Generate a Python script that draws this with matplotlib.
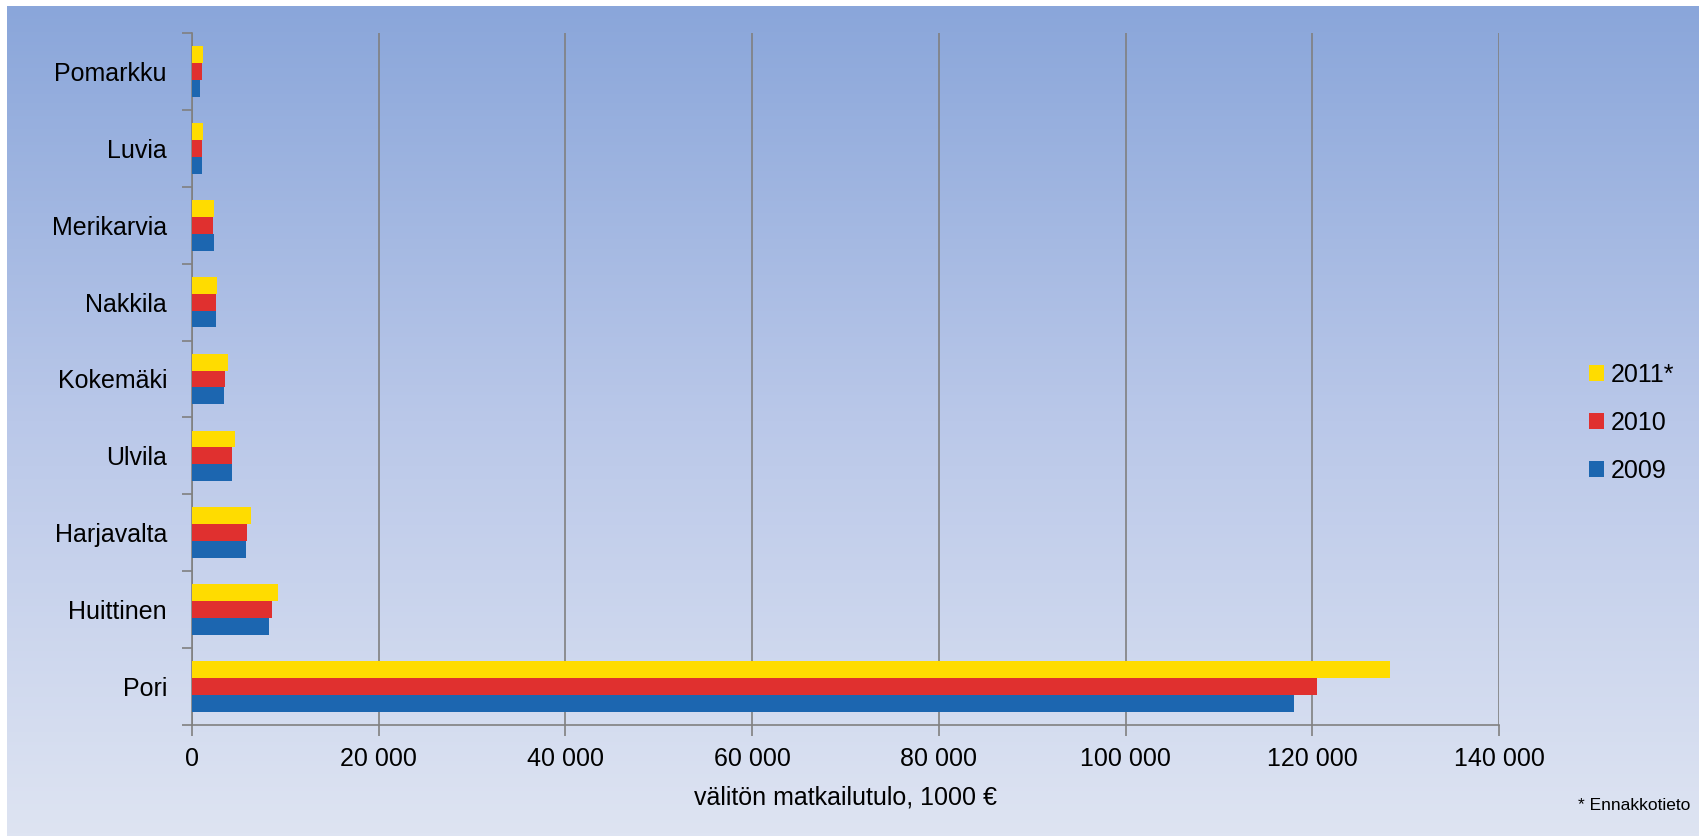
import matplotlib
matplotlib.use("Agg")
import matplotlib.pyplot as plt
import numpy as np
from matplotlib.colors import LinearSegmentedColormap

plt.rcParams['font.family'] = ['Liberation Sans', 'DejaVu Sans']

categories = ["Pori", "Huittinen", "Harjavalta", "Ulvila", "Kokemäki",
              "Nakkila", "Merikarvia", "Luvia", "Pomarkku"]
v2009 = [118000, 8250, 5790, 4250, 3460, 2600, 2400, 1040, 900]
v2010 = [120500, 8540, 5930, 4250, 3570, 2600, 2250, 1040, 1040]
v2011 = [128300, 9250, 6360, 4570, 3850, 2680, 2400, 1150, 1150]
series_labels = ["2011*", "2010", "2009"]
xticks = [0, 20000, 40000, 60000, 80000, 100000, 120000, 140000]

W, H = 1705, 836
fig = plt.figure(figsize=(W / 100, H / 100), dpi=100)
fig.patch.set_facecolor("white")

# gradient background
bg = fig.add_axes([7 / W, 0, (W - 14) / W, (H - 6) / H], zorder=0)
cmap = LinearSegmentedColormap.from_list("g", ["#8aa6da", "#bac8e9", "#dee4f2"])
grad = np.linspace(0, 1, 256).reshape(-1, 1)
bg.imshow(grad, aspect="auto", cmap=cmap, extent=[0, 1, 0, 1], origin="upper")
bg.set_axis_off()

ax = fig.add_axes([192 / W, 1 - 725 / H, (1499 - 192) / W, (725 - 33) / H], zorder=1)
ax.patch.set_alpha(0)

y = np.arange(len(categories))
h = 0.22
c2011, c2010, c2009 = "#ffdc00", "#e0302f", "#1c66b0"
ax.barh(y + h, v2011, height=h, color=c2011, label=series_labels[0], zorder=3)
ax.barh(y, v2010, height=h, color=c2010, label=series_labels[1], zorder=3)
ax.barh(y - h, v2009, height=h, color=c2009, label=series_labels[2], zorder=3)

fs = 18
ax.set_xlim(0, 140000)
ax.set_ylim(-0.5, len(categories) - 0.5)
ax.set_xticks(xticks)
ax.set_xticklabels([f"{v:,}".replace(",", " ") for v in xticks], fontsize=fs)
ax.set_yticks(y)
ax.set_yticklabels(categories, fontsize=fs)
ax.set_yticks(np.arange(-0.5, len(categories), 1), minor=True)
ax.tick_params(axis="y", which="major", length=0, pad=18)
ax.tick_params(axis="y", which="minor", length=7, color="#808080", width=1.2)
ax.tick_params(axis="x", which="major", length=8, color="#808080", width=1.2, pad=8)
ax.grid(axis="x", color="#808080", linewidth=1.2, zorder=1)
for s in ["top", "right"]:
    ax.spines[s].set_visible(False)
for s in ["left", "bottom"]:
    ax.spines[s].set_color("#808080")
    ax.spines[s].set_linewidth(1.2)
ax.set_xlabel("välitön matkailutulo, 1000 €", fontsize=fs, labelpad=10)

leg = fig.legend(*ax.get_legend_handles_labels(), loc="center left",
                 bbox_to_anchor=(1576 / W, 1 - 423 / H), frameon=False, borderpad=0,
                 fontsize=fs, handlelength=0.6, handleheight=0.6, handletextpad=0.3,
                 labelspacing=0.95)

fig.text(1690 / W, 1 - 806 / H, "* Ennakkotieto", fontsize=12.5, ha="right", va="center")

fig.savefig("out.png", dpi=100)
